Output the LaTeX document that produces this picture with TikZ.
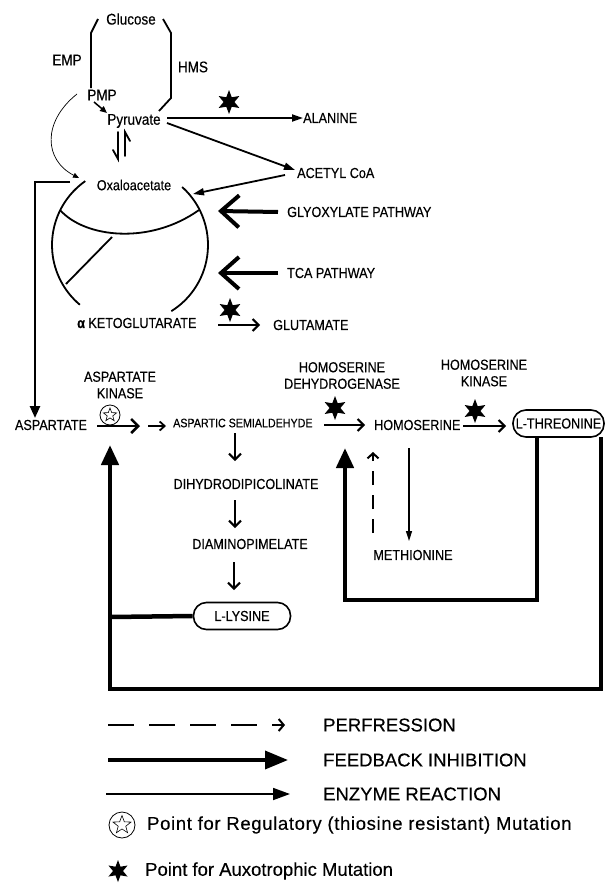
\documentclass[tikz,border=0pt]{standalone}
\usepackage{fontspec}
\setmainfont{Liberation Sans}[FakeStretch=0.87,FakeBold=0.4]
\newfontfamily\legfont{Liberation Sans}[FakeBold=0.3]
\newfontfamily\legwide{Liberation Sans}[LetterSpace=3.5,FakeBold=0.3]
\usetikzlibrary{arrows.meta,shapes.geometric}
\begin{document}
\begin{tikzpicture}[x=1pt,y=-1pt,
  lbl/.style={inner sep=0pt, font=\fontsize{14.5}{15}\selectfont},
  top/.style={inner sep=0pt, font=\fontsize{15.5}{16}\selectfont},
  small/.style={inner sep=0pt, font=\fontsize{12.3}{13}\selectfont},
  leg/.style={inner sep=0pt, anchor=west, font=\legfont\fontsize{18.5}{20}\selectfont},
  two/.style={inner sep=0pt, align=center, font=\fontsize{14.5}{16.5}\selectfont},
  enz/.style={line width=1.8pt, -{Triangle[length=11pt,width=7pt]}},
  barb/.style={line width=2pt, -{Straight Barb[length=6pt,width=12pt]}},
  fb/.style={line width=4.5pt, -{Triangle[length=20pt,width=17pt]}},
  fbline/.style={line width=4.5pt},
  big/.style={line width=4pt, -{Straight Barb[length=18pt,width=32pt]}},
  bstar/.style={star, star points=6, star point ratio=2.2, fill=black, inner sep=0pt, minimum size=24pt},
  ostar/.style={star, star points=5, star point ratio=2.4, draw, line width=0.6pt, inner sep=0pt, minimum size=14pt},
  ocirc/.style={circle, draw, line width=0.8pt, inner sep=0pt, minimum size=20pt},
  cyc/.style={line width=1.8pt},
  pill/.style={draw, line width=1.6pt, rounded corners=13pt, inner sep=0pt, minimum height=27pt, font=\fontsize{14.5}{15}\selectfont},
]
\useasboundingbox (0,0) rectangle (605,883);

% ---- top labels
\node[top] (glu) at (131,19) {Glucose};
\node[top] (emp) at (67,60) {EMP};
\node[top] (hms) at (193,67) {HMS};
\node[top] (pmp) at (102,95) {PMP};
\node[top] (pyr) at (134,121) {Pyruvate};
\node[lbl, anchor=west] (ala) at (303,118) {ALANINE};
\node[lbl, anchor=west] (acoa) at (297,173) {ACETYL CoA};
\node[lbl] (oxa) at (134,185) {Oxaloacetate};
\node[lbl, anchor=west] (gly) at (287,212) {GLYOXYLATE PATHWAY};
\node[lbl, anchor=west] (tca) at (287,273) {TCA PATHWAY};
\node[lbl, anchor=west] (akg) at (77,323) {\textbf{α} KETOGLUTARATE};
\node[lbl, anchor=west] (glut) at (273,325) {GLUTAMATE};

% ---- glucose brackets
\draw[cyc] (98,19) -- (91,33) -- (91,88);
\draw[cyc] (163,19) -- (171,33) -- (171,98) -- (159,111);

% ---- arrows around pyruvate
\coordinate (pmpo) at (94,102);
\coordinate (pyri) at (107,113);
\draw[line width=1.5pt, -{Triangle[length=7pt,width=6pt]}] (pmpo) -- (pyri);
\coordinate (cstart) at (77,94);
\coordinate (cend) at (79,178);
\draw[line width=0.7pt, -{Triangle[length=6pt,width=5pt]}] (cstart) .. controls (42,122) and (44,160) .. (cend);
% equilibrium harpoons
\draw[line width=1.8pt, line cap=round] (118,132) -- (118,159) -- (113,150);
\draw[line width=1.8pt, line cap=round] (125,156) -- (125,132) -- (130,141);
\coordinate (pyrE1) at (167,118);
\coordinate (pyrE2) at (167,123);
\coordinate (acoaW) at (295,170);
\draw[enz] (pyrE1) -- (ala.west);
\draw[enz] (pyrE2) -- (acoaW);
\node[bstar] (s1) at (229,102) {};
\coordinate (acoaO) at (285,175);
\coordinate (cycIn) at (193,194);
\draw[enz] (acoaO) -- (cycIn);

% ---- cycle
\draw[cyc] (130,245) ++(235:78) arc[start angle=235, end angle=130, radius=78];
\draw[cyc] (130,245) ++(-48:78) arc[start angle=-48, end angle=58, radius=78];
\draw[cyc] (60,210) .. controls (85,238) and (150,245) .. (199,210);
\draw[cyc] (112,237) -- (66,284);

\coordinate (glyT) at (218,211);
\coordinate (tcaT) at (218,273);
\draw[big] ([xshift=-9pt]gly.west) -- (glyT);
\draw[big] ([xshift=-9pt]tca.west) -- (tcaT);

\coordinate (akgE) at (218,325);
\coordinate (glutW) at (260,325);
\draw[barb] (akgE) -- (glutW);
\node[bstar] (s2) at (230,310) {};

% ---- aspartate row
\node[lbl] (asp) at (51,425) {ASPARTATE};
\node[two] (ak) at (120,385) {ASPARTATE\\KINASE};
\node[ocirc] (oc1) at (110,415) {};
\node[ostar] at (oc1) {};
\node[small, anchor=west] (asa) at (173,423) {ASPARTIC SEMIALDEHYDE};
\node[lbl] (dhdp) at (246,484) {DIHYDRODIPICOLINATE};
\node[lbl] (dap) at (250,544) {DIAMINOPIMELATE};
\node[pill, minimum width=97pt] (lys) at (242,616) {L-LYSINE};
\node[two] (hsd) at (342,375.5) {HOMOSERINE\\DEHYDROGENASE};
\node[lbl, anchor=west] (hom) at (374,425) {HOMOSERINE};
\node[two] (hk) at (484,373) {HOMOSERINE\\KINASE};
\node[pill, minimum width=91pt] (thr) at (558.5,423.5) {L-THREONINE};
\node[lbl] (met) at (413,555) {METHIONINE};

\coordinate (oxaL) at (70,182);
\coordinate (aspN) at (35,418);
\draw[line width=2.5pt, -{Triangle[length=12pt,width=10pt]}] (oxaL) -- (35,182) -- (aspN);

\coordinate (aspE) at (97,426);
\coordinate (akT) at (140,426);
\draw[line width=2.5pt, -{Straight Barb[length=7pt,width=14pt]}] (aspE) -- (akT);
\coordinate (sm1) at (148,426);
\coordinate (sm2) at (166,426);
\draw[line width=1.8pt, -{Straight Barb[length=5pt,width=9pt]}] (sm1) -- (sm2);

\coordinate (ly1) at (235,433); \coordinate (ly2) at (235,461);
\coordinate (ly3) at (235,500); \coordinate (ly4) at (235,528);
\coordinate (ly5) at (234,562); \coordinate (ly6) at (234,590);
\draw[barb] (ly1) -- (ly2);
\draw[barb] (ly3) -- (ly4);
\draw[barb] (ly5) -- (ly6);

\coordinate (hsdA) at (324,425);
\coordinate (hsdB) at (365,425);
\draw[barb] (hsdA) -- (hsdB);
\node[bstar] (s3) at (335,408) {};
\coordinate (hkA) at (463,426);
\coordinate (hkB) at (506,426);
\draw[barb] (hkA) -- (hkB);
\node[bstar] (s4) at (475,411) {};

\coordinate (metA) at (409,448);
\coordinate (metB) at (409,541);
\draw[line width=1.5pt, -{Triangle[length=10pt,width=6pt]}] (metA) -- (metB);
\coordinate (repA) at (373,533);
\coordinate (repB) at (373,452);
\draw[line width=2pt, dash pattern=on 14pt off 10pt, -{Straight Barb[length=5pt,width=11pt]}] (repA) -- (repB);

% ---- feedback
\draw[fb] (601,437) -- (601,689) -- (110,689) -- (110,445);
\draw[fb] (537,437) -- (537,600) -- (345,600) -- (345,448);
\draw[fbline] (lys.west) -- (110,617);

% ---- legend
\coordinate (l1a) at (108,725); \coordinate (l1b) at (285,725);
\draw[line width=2pt, dash pattern=on 26pt off 15pt, -{Straight Barb[length=5pt,width=12pt]}] (l1a) -- (l1b);
\node[leg] (t1) at (323,725) {PERFRESSION};
\coordinate (l2a) at (108,760); \coordinate (l2b) at (288,760);
\draw[line width=3.5pt, -{Triangle[length=23pt,width=18pt]}] (l2a) -- (l2b);
\node[leg] (t2) at (323,760) {FEEDBACK INHIBITION};
\coordinate (l3a) at (106,794); \coordinate (l3b) at (290,794);
\draw[line width=1.8pt, -{Triangle[length=17pt,width=12pt]}] (l3a) -- (l3b);
\node[leg] (t3) at (323,794) {ENZYME REACTION};
\node[ocirc, minimum size=26pt] (oc2) at (122,825) {};
\node[ostar, minimum size=19pt] at (oc2) {};
\node[leg, font=\legwide\fontsize{18.5}{20}\selectfont] (t4) at (147,825) {Point for Regulatory (thiosine resistant) Mutation};
\node[bstar, minimum size=22pt] (s5) at (118,871) {};
\node[leg] (t5) at (145,871) {Point for Auxotrophic Mutation};
\end{tikzpicture}
\end{document}
